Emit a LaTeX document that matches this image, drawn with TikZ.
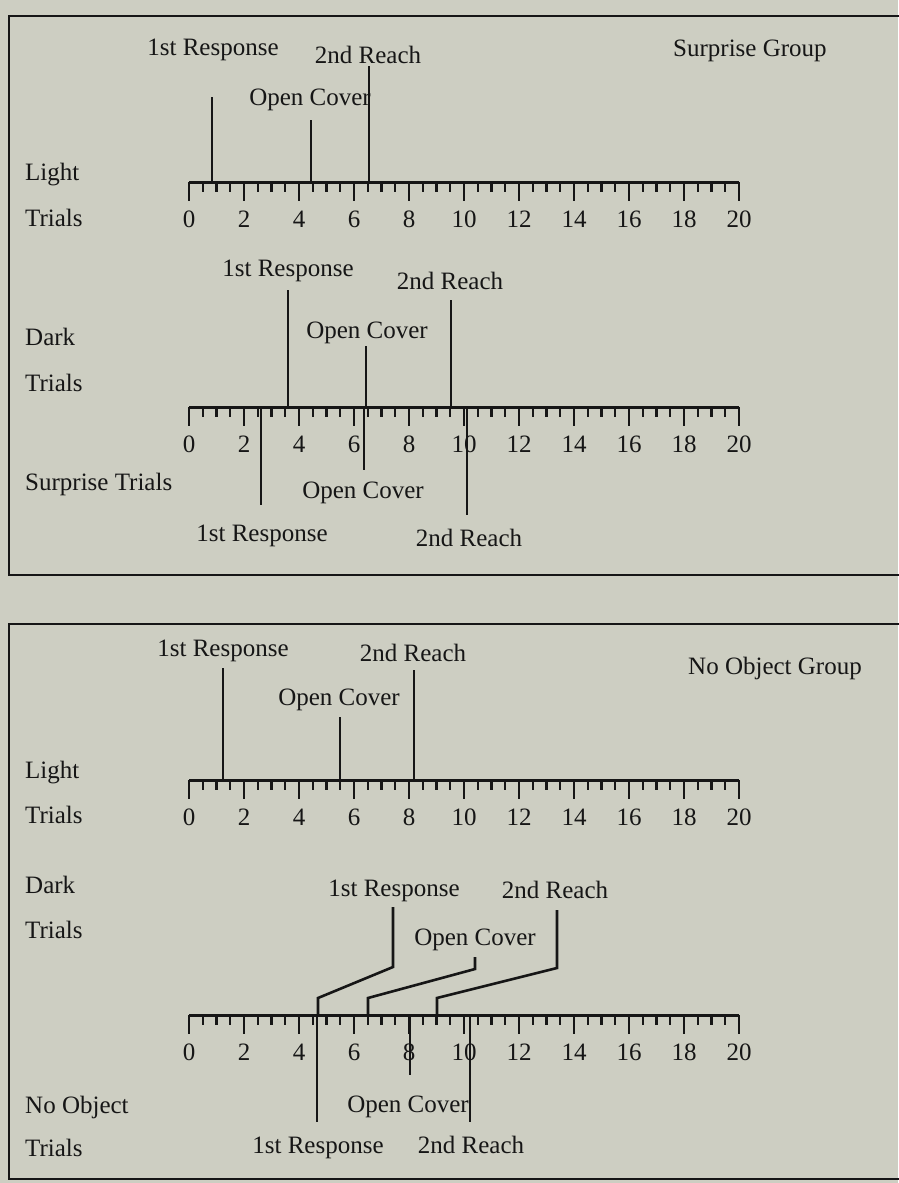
\documentclass[tikz,border=0pt]{standalone}
\usepackage{fontspec}
\setmainfont{Liberation Serif}
\definecolor{paper}{RGB}{205,206,194}
\definecolor{ink}{RGB}{22,22,22}

\begin{document}
\begin{tikzpicture}[x=1pt,y=-1pt,
    font=\fontsize{25}{30}\selectfont,
    every node/.style={inner sep=0pt, text=ink},
    frame/.style={draw=ink, line width=2.6pt},
    axisln/.style={draw=ink, line width=3pt},
    marker/.style={draw=ink, line width=2.6pt},
    tk/.style={draw=ink, line width=2.2pt},
    lbl/.style={anchor=base, yshift=-8pt},
    sidelbl/.style={anchor=base west, yshift=-8pt}]
  \fill[paper] (0,0) rectangle (898,1183);
  \useasboundingbox (0,0) rectangle (898,1183);

  % frames, both run off the right edge
  \draw[frame] (915,16) -- (9,16) -- (9,575) -- (915,575);
  \draw[frame] (915,624) -- (9,624) -- (9,1179) -- (915,1179);

  % trial axes 0..20
  \foreach \ay/\nm in {182/la,407/da,780/lb,1015/db} {
    \coordinate (\nm0) at (189,\ay);
    \coordinate (\nm20) at (739,\ay);
    \draw[axisln] (\nm0) -- (\nm20);
    \foreach \t in {0,...,40} {
      \pgfmathsetmacro\tl{ifthenelse(mod(\t,4)==0,19,10)}
      \draw[tk] (189+13.75*\t,\ay) -- ++(0,\tl);
    }
    \foreach \v in {0,2,...,20}
      \node[lbl] (\nm n\v) at (189+27.5*\v,\ay+37) {\v};
  }

  % Surprise group
  \node[anchor=base west, yshift=-8pt] (sgrp) at (673,48) {Surprise Group};
  \node[sidelbl] (slight) at (25,172) {Light};
  \node[sidelbl] (strl1) at (25,218) {Trials};
  \node[sidelbl] (sdark) at (25,337) {Dark};
  \node[sidelbl] (strl2) at (25,383) {Trials};
  \node[sidelbl] (ssurp) at (25,482) {Surprise Trials};

  \node[lbl] (sl1) at (213,47) {1st Response};
  \node[lbl] (sl2) at (310,97) {Open Cover};
  \node[lbl] (sl3) at (368,55) {2nd Reach};
  \coordinate (sl1t) at (212,97);
  \coordinate (sl2t) at (311,120);
  \coordinate (sl3t) at (369,66);
  \draw[marker] (sl1t) -- (sl1t |- la0);
  \draw[marker] (sl2t) -- (sl2t |- la0);
  \draw[marker] (sl3t) -- (sl3t |- la0);

  \node[lbl] (sd1) at (288,268) {1st Response};
  \node[lbl] (sd2) at (367,330) {Open Cover};
  \node[lbl] (sd3) at (450,281) {2nd Reach};
  \coordinate (sd1t) at (288,290);
  \coordinate (sd2t) at (366,346);
  \coordinate (sd3t) at (451,300);
  \draw[marker] (sd1t) -- (sd1t |- da0);
  \draw[marker] (sd2t) -- (sd2t |- da0);
  \draw[marker] (sd3t) -- (sd3t |- da0);

  \node[lbl] (ss1) at (262,533) {1st Response};
  \node[lbl] (ss2) at (363,490) {Open Cover};
  \node[lbl] (ss3) at (469,538) {2nd Reach};
  \coordinate (ss1b) at (261,505);
  \coordinate (ss2b) at (364,470);
  \coordinate (ss3b) at (467,515);
  \draw[marker] (ss1b |- da0) -- (ss1b);
  \draw[marker] (ss2b |- da0) -- (ss2b);
  \draw[marker] (ss3b |- da0) -- (ss3b);

  % No Object group
  \node[lbl] (ngrp) at (775,666) {No Object Group};
  \node[sidelbl] (nlight) at (25,770) {Light};
  \node[sidelbl] (ntrl1) at (25,815) {Trials};
  \node[sidelbl] (ndark) at (25,885) {Dark};
  \node[sidelbl] (ntrl2) at (25,930) {Trials};
  \node[sidelbl] (nnobj) at (25,1105) {No Object};
  \node[sidelbl] (ntrl3) at (25,1148) {Trials};

  \node[lbl] (nl1) at (223,648) {1st Response};
  \node[lbl] (nl2) at (339,697) {Open Cover};
  \node[lbl] (nl3) at (413,653) {2nd Reach};
  \coordinate (nl1t) at (223,668);
  \coordinate (nl2t) at (340,717);
  \coordinate (nl3t) at (414,670);
  \draw[marker] (nl1t) -- (nl1t |- lb0);
  \draw[marker] (nl2t) -- (nl2t |- lb0);
  \draw[marker] (nl3t) -- (nl3t |- lb0);

  \node[lbl] (nd1) at (394,888) {1st Response};
  \node[lbl] (nd2) at (475,937) {Open Cover};
  \node[lbl] (nd3) at (555,890) {2nd Reach};
  \coordinate (nd1t) at (393,907);
  \coordinate (nd2t) at (475,957);
  \coordinate (nd3t) at (557,910);
  \draw[marker] (nd1t) -- (393,967) -- (318,998) -- (318,1015);
  \draw[marker] (nd2t) -- (475,969) -- (368,998) -- (368,1015);
  \draw[marker] (nd3t) -- (557,968) -- (437,998) -- (437,1015);

  \node[lbl] (nn1) at (318,1145) {1st Response};
  \node[lbl] (nn2) at (408,1104) {Open Cover};
  \node[lbl] (nn3) at (471,1145) {2nd Reach};
  \coordinate (nn1b) at (317,1122);
  \coordinate (nn2b) at (410,1075);
  \coordinate (nn3b) at (470,1122);
  \draw[marker] (nn1b |- db0) -- (nn1b);
  \draw[marker, line width=2.9pt] (nn2b |- db0) -- (nn2b);
  \draw[marker] (nn3b |- db0) -- (nn3b);
\end{tikzpicture}
\end{document}
